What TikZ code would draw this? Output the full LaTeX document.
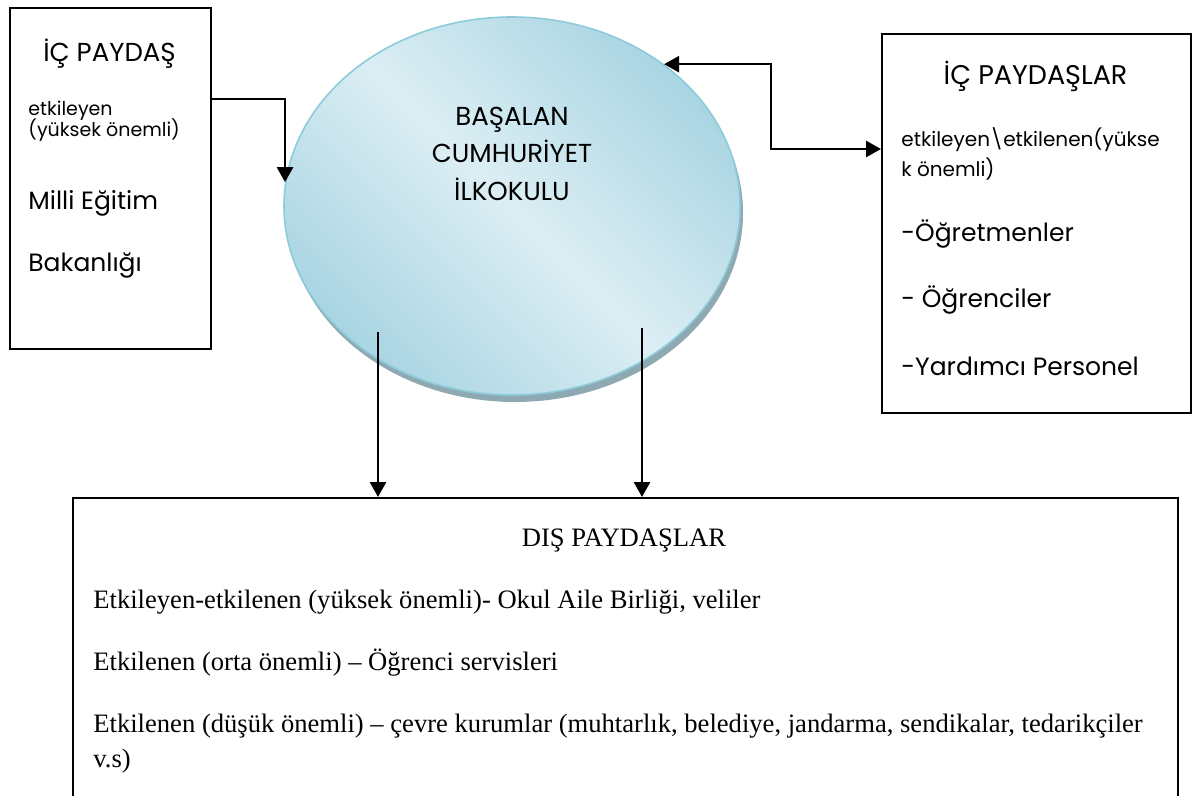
\documentclass[tikz,border=0pt]{standalone}
\usepackage{fontspec}
\setmainfont{Liberation Serif}
\newfontfamily\gothic{Poppins}
\usetikzlibrary{arrows.meta,shapes.geometric,shadows}

\definecolor{ovalline}{HTML}{8DCBDB}
\definecolor{ovaldark}{HTML}{A9D5E2}
\definecolor{ovallight}{HTML}{DCEEF4}
\definecolor{ovalshadow}{HTML}{8FA9B2}

\tikzset{
 box/.style={draw, line width=0.8pt, inner sep=0pt, anchor=north west},
 oval/.style={ellipse, draw=ovalline, line width=0.8pt, inner sep=0pt,
  minimum width=228pt, minimum height=189pt,
  left color=ovaldark, right color=ovaldark, middle color=ovallight,
  shading angle=-45,
  drop shadow={shadow xshift=1.5pt, shadow yshift=-3.5pt, fill=ovalshadow, opacity=1}},
 link/.style={line width=1.3pt, -{Triangle[length=7.5pt,width=8pt]}},
 twoway/.style={line width=1.3pt,
  {Triangle[length=7.5pt,width=8pt]}-{Triangle[length=7.5pt,width=8pt]}},
 gbig/.style={font=\gothic\fontsize{12.5}{15}\selectfont, inner sep=0pt, anchor=base west},
 gsmall/.style={font=\gothic\fontsize{9.5}{11}\selectfont, inner sep=0pt, anchor=base west},
 gtitle/.style={font=\gothic\fontsize{13}{15}\selectfont, inner sep=0pt, anchor=base},
 serif/.style={font=\fontsize{13.3}{16}\selectfont, inner sep=0pt, anchor=base west}
}

\begin{document}
\begin{tikzpicture}[x=0.5pt,y=-0.5pt]
 \useasboundingbox (0,0) rectangle (1193,796);
 \clip (0,0) rectangle (1193,796);
 % School
 \node[oval] (school) at (512,206) {};
 \node[gtitle] (s1) at (512,126) {BAŞALAN};
 \node[gtitle] (s2) at (512,163) {CUMHURİYET};
 \node[gtitle] (s3) at (512,201) {İLKOKULU};
 % Left box
 \node[box, minimum width=100.5pt, minimum height=170.5pt] (lbox) at (9,7) {};
 \node[gtitle] (l1) at (109.5,62) {İÇ PAYDAŞ};
 \node[gsmall] (l2) at (28,116) {etkileyen};
 \node[gsmall] (l3) at (28,137) {(yüksek önemli)};
 \node[gbig] (l4) at (28,210) {Milli Eğitim};
 \node[gbig] (l5) at (28,272) {Bakanlığı};
 % Right box
 \node[box, minimum width=154.5pt, minimum height=189.5pt] (rbox) at (881,33) {};
 \node[gtitle, font=\gothic\fontsize{13.5}{16}\selectfont] (r1) at (1035.5,85) {İÇ PAYDAŞLAR};
 \node[gsmall, font=\gothic\fontsize{10}{12}\selectfont] (r2) at (901,147) {etkileyen\textbackslash etkilenen(yükse};
 \node[gsmall, font=\gothic\fontsize{10}{12}\selectfont] (r3) at (901,177) {k önemli)};
 \node[gbig] (r4) at (901,242) {-Öğretmenler};
 \node[gbig] (r5) at (901,308) {- Öğrenciler};
 \node[gbig] (r6) at (901,376) {-Yardımcı Personel};
 % Bottom box
 \node[box, minimum width=552.5pt, minimum height=160pt] (dbox) at (72,497) {};
 \node[serif, anchor=base] (d0) at (624,546) {DIŞ PAYDAŞLAR};
 \node[serif] (d1) at (93,608) {Etkileyen-etkilenen (yüksek önemli)- Okul Aile Birliği, veliler};
 \node[serif] (d2) at (93,670) {Etkilenen (orta önemli) – Öğrenci servisleri};
 \node[serif] (d3) at (93,732) {Etkilenen (düşük önemli) – çevre kurumlar (muhtarlık, belediye, jandarma, sendikalar, tedarikçiler};
 \node[serif] (d4) at (93,767) {v.s)};
 % Connectors
 \draw[link] ([yshift=-46pt]lbox.north east) -| (school.174);
 \draw[twoway] (school.43) -| (771,149) -- (rbox.west |- 0,149);
 \foreach \x/\y [count=\i] in {378/332,642/328} {
  \coordinate (down\i) at (\x,\y);
  \draw[link] (down\i) -- (down\i |- dbox.north);
 }
\end{tikzpicture}
\end{document}
